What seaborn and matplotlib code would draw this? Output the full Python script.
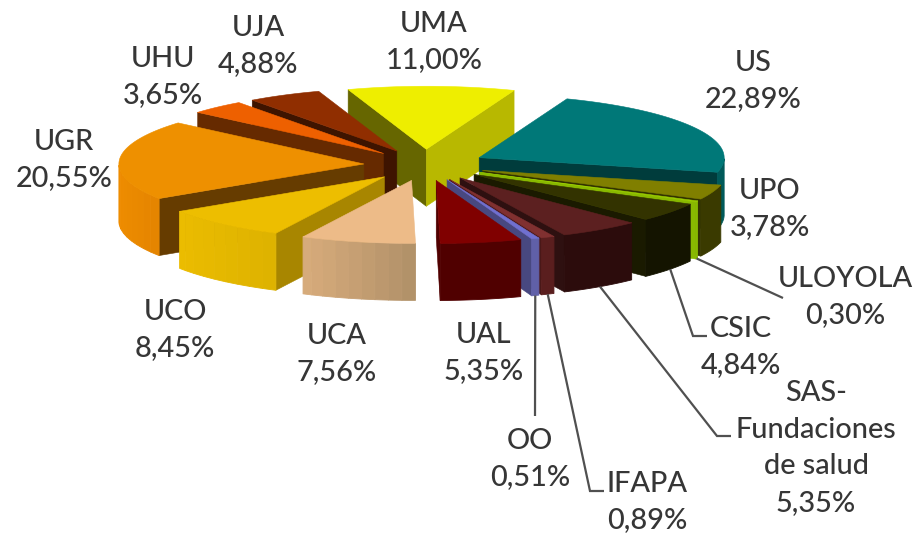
import numpy as np
import matplotlib
matplotlib.use("Agg")
import matplotlib.pyplot as plt
import matplotlib.colors as mc
import seaborn as sns

# ---- data ----
names = ["US", "UPO", "ULOYOLA", "CSIC", "SAS-\nFundaciones\nde salud", "IFAPA", "OO", "UAL",
         "UCA", "UCO", "UGR", "UHU", "UJA", "UMA"]
values = [22.89, 3.78, 0.30, 4.84, 5.35, 0.89, 0.51, 5.35, 7.56, 8.45, 20.55, 3.65, 4.88, 11.00]
percent_text = ["22,89%", "3,78%", "0,30%", "4,84%", "5,35%", "0,89%", "0,51%", "5,35%",
                "7,56%", "8,45%", "20,55%", "3,65%", "4,88%", "11,00%"]

# ---- colours ----
top_colors = sns.color_palette(["#007878", "#807F00", "#99CC00", "#333300", "#5C2020", "#803030", "#7070D0",
                                "#800000", "#EDBB88", "#EDBE00", "#EE9000", "#EE6000", "#902E00", "#EEEE00"])
start_face = ["#003C3C", "#333300", "#88B800", "#1A1A00", "#2E1010", "#4A1818", "#484880",
              "#500000", "#B09068", "#A88600", "#663C00", "#662A00", "#3E1400", "#666600"]
end_face = ["#003C3C", "#333300", "#88B800", "#1A1A00", "#2E1010", "#4A1818", "#484880",
            "#500000", "#B09068", "#A88600", "#663C00", "#662A00", "#3E1400", "#B8B800"]
wall_left = ["#005A5A", "#3A3A00", "#88B800", "#141400", "#2C0C0C", "#5A1E1E", "#6060A8",
             "#500000", "#D8AC7C", "#EBBC00", "#EE8C00", "#662A00", "#3E1400", "#B8B800"]
wall_right = ["#005A5A", "#3A3A00", "#88B800", "#141400", "#2C0C0C", "#5A1E1E", "#6060A8",
              "#500000", "#B09068", "#DDB200", "#E48400", "#662A00", "#3E1400", "#B8B800"]
text_color = "#363636"
line_color = "#505050"

# ---- layout of the 3-D pie ----
CX, CY = 425, 165
RX, RY = 245, 63
DEPTH = 57
EXPLODE = 0.25
START = 21.0

# label centres (pixels) and leader elbows
label_pos = [(753, 81), (770, 209), (845, 297), (741, 347), (816, 448), (647, 502), (530, 459),
             (484, 353), (337, 354), (175, 330), (64, 160), (163, 77), (258, 46), (434, 42)]
leaders = {"ULOYOLA": [(783, 298)],
           "CSIC": [(693, 336), (707, 336)],
           "SAS-\nFundaciones\nde salud": [(717, 436), (731, 436)],
           "IFAPA": [(590, 491), (604, 491)],
           "OO": [(535, 416)]}

sns.set_theme(style="white")
plt.rcParams["font.family"] = ["Lato", "DejaVu Sans"]
fig, ax = plt.subplots(figsize=(9.13, 5.38), dpi=100)
fig.subplots_adjust(0, 0, 1, 1)
ax.set_xlim(0, 913)
ax.set_ylim(538, 0)
ax.axis("off")


def rim(apex, theta):
    t = np.radians(theta)
    return apex[0] + RX * np.sin(t), apex[1] - RY * np.cos(t)


def poly(pts, color, lw=0.4):
    xs, ys = zip(*pts)
    ax.fill(xs, ys, facecolor=color, edgecolor=color, linewidth=lw, joinstyle="round")


shares = np.array(values) / np.sum(values) * 360
starts = START + np.concatenate([[0], np.cumsum(shares)[:-1]])
ends = starts + shares
mids = (starts + ends) / 2
apexes = [(CX + EXPLODE * RX * np.sin(np.radians(m)), CY - EXPLODE * RY * np.cos(np.radians(m))) for m in mids]

for i in np.argsort(-np.cos(np.radians(mids))):
    apex, a0, a1 = apexes[i], starts[i], ends[i]
    # radial faces that look towards the viewer
    if np.sin(np.radians(a0)) < 0:
        p = rim(apex, a0)
        poly([apex, p, (p[0], p[1] + DEPTH), (apex[0], apex[1] + DEPTH)], start_face[i])
    if np.sin(np.radians(a1)) > 0:
        p = rim(apex, a1)
        poly([apex, p, (p[0], p[1] + DEPTH), (apex[0], apex[1] + DEPTH)], end_face[i])
    # outer wall, only the front half of the ellipse is visible; stepped shading like the original
    thetas = np.linspace(a0, a1, 61)
    vis = thetas[np.cos(np.radians(thetas)) < 0.0]
    if len(vis) > 1:
        same = wall_left[i] == wall_right[i]
        bands = 1 if same else 9
        groups = np.array_split(np.arange(len(vis)), bands)
        cl, cr = np.array(mc.to_rgb(wall_left[i])), np.array(mc.to_rgb(wall_right[i]))
        xmin = min(rim(apex, t)[0] for t in vis)
        xmax = max(rim(apex, t)[0] for t in vis)
        for g in groups:
            idx = list(g)
            if g[-1] + 1 < len(vis):
                idx.append(g[-1] + 1)
            pts = [rim(apex, vis[j]) for j in idx]
            f = (np.mean([p[0] for p in pts]) - xmin) / max(xmax - xmin, 1)
            c = tuple(cl * (1 - f) + cr * f)
            low = [(p[0], p[1] + DEPTH) for p in reversed(pts)]
            poly(pts + low, c, lw=0.6)
    # top
    top = [apex] + [rim(apex, t) for t in thetas]
    poly(top, top_colors[i])

# leader lines start at the bottom of the slice rim
for i, n in enumerate(names):
    if n in leaders:
        s = rim(apexes[i], mids[i])
        path = [(s[0], s[1] + DEPTH)] + leaders[n]
        xs, ys = zip(*path)
        ax.plot(xs, ys, color=line_color, linewidth=1.6, solid_capstyle="butt", solid_joinstyle="miter")

# labels
for n, t, (x, y) in zip(names, percent_text, label_pos):
    ax.text(x, y, n + "\n" + t, ha="center", va="center", fontsize=20.8, color=text_color,
            linespacing=1.5, multialignment="center", fontweight="medium")

sns.despine(ax=ax, left=True, bottom=True)
fig.savefig("out.png", dpi=100, facecolor="white")
